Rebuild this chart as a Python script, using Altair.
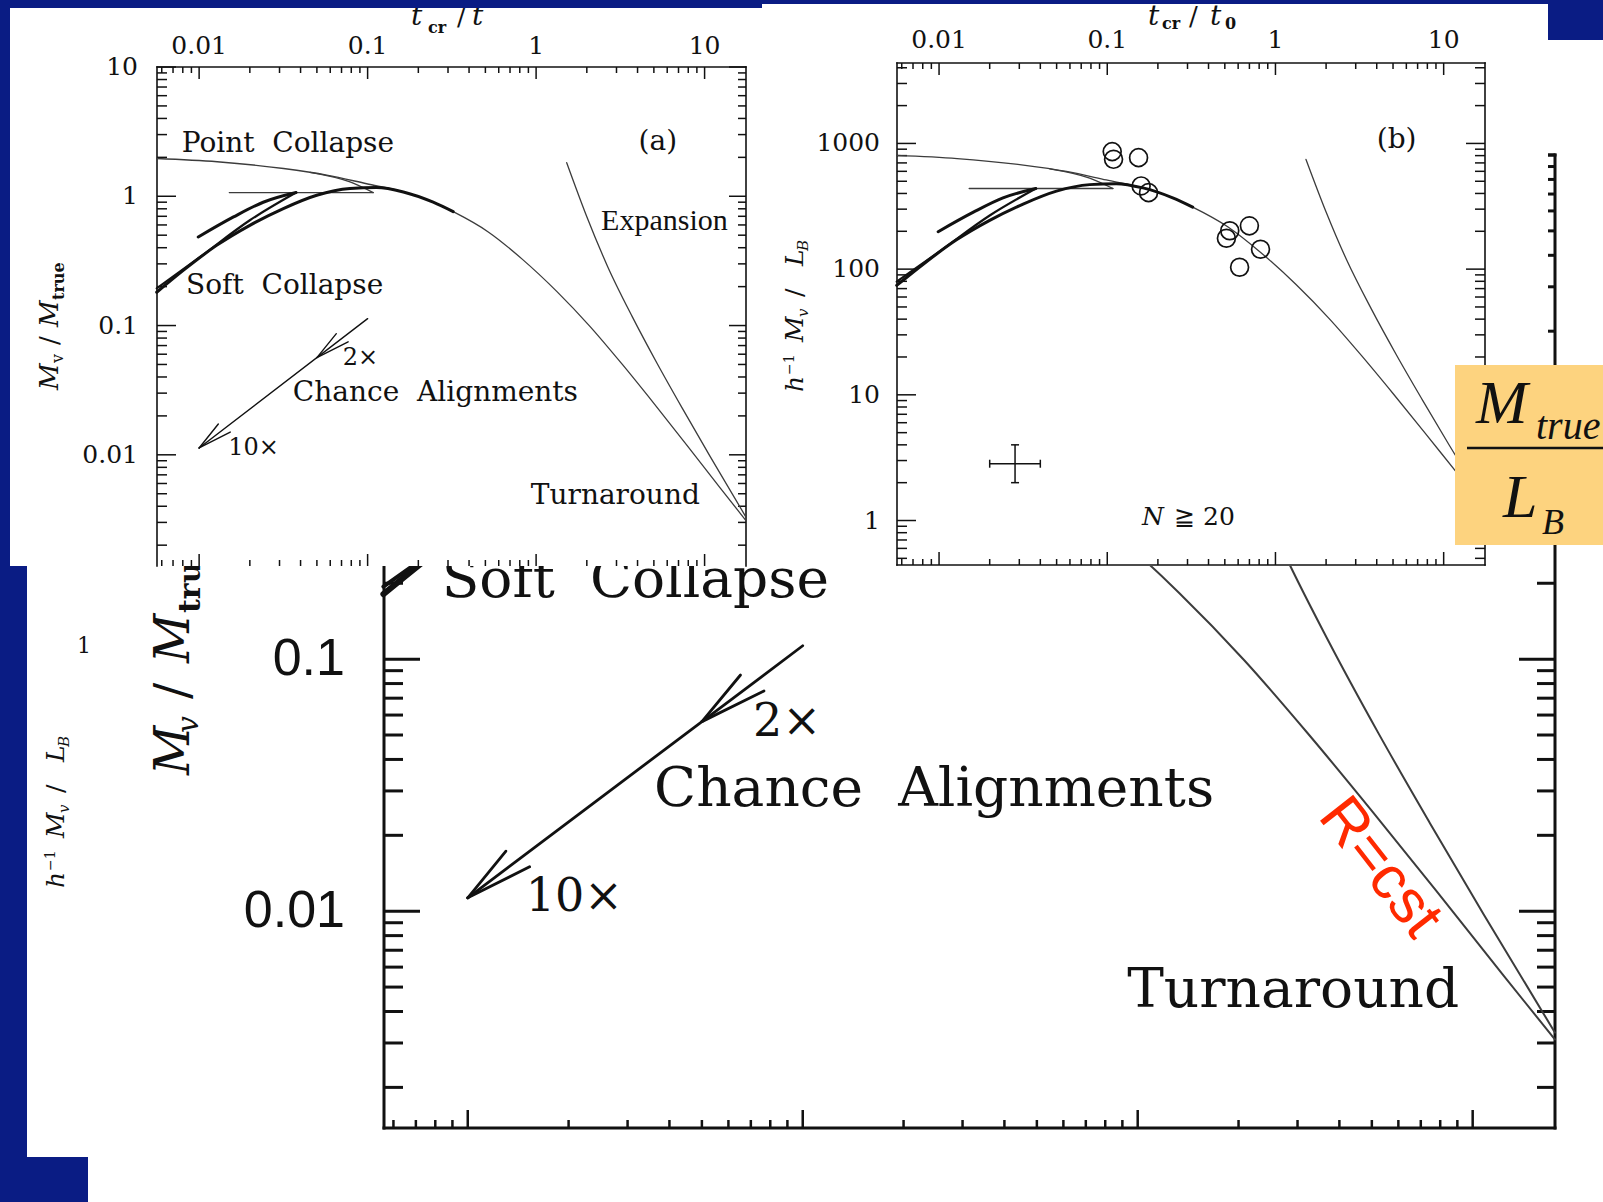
import altair as alt
import pandas as pd

# ---------------- canvas & palette ----------------
W, H = 1603, 1202
NAVY = "#0a1c84"
YELLOW = "#FDD37F"
RED = "#FF2A00"
INK = "#111111"
THIN = "#3c3c3c"
SERIF = "DejaVu Serif"
TIMES = "Liberation Serif"
SANS = "Liberation Sans"

# ---------------- axis extents & ticks ----------------
X_DOM = [0.005623, 17.61]          # t_cr / t
A_Y_DOM = [0.00138, 10.0]          # M_V / M_true
B_Y_DOM = [0.4426, 4365.0]         # h^-1 M_V / L_B

X_MAJOR = [0.01, 0.1, 1, 10]
X_MINOR = [0.006, 0.007, 0.008, 0.009, 0.02, 0.03, 0.04, 0.05, 0.06, 0.07, 0.08, 0.09,
           0.2, 0.3, 0.4, 0.5, 0.6, 0.7, 0.8, 0.9, 2, 3, 4, 5, 6, 7, 8, 9]
X_LABELS = ["0.01", "0.1", "1", "10"]

A_Y_MAJOR = [0.01, 0.1, 1, 10]
A_Y_MINOR = [0.002, 0.003, 0.004, 0.005, 0.006, 0.007, 0.008, 0.009,
             0.02, 0.03, 0.04, 0.05, 0.06, 0.07, 0.08, 0.09,
             0.2, 0.3, 0.4, 0.5, 0.6, 0.7, 0.8, 0.9, 2, 3, 4, 5, 6, 7, 8, 9]
A_Y_LABELS = ["0.01", "0.1", "1", "10"]
ZOOM_Y_SHOWN = [0.01, 0.1]
ZOOM_Y_LABELS = ["0.01", "0.1"]

B_Y_MAJOR = [1, 10, 100, 1000]
B_Y_MINOR = [0.5, 0.6, 0.7, 0.8, 0.9, 2, 3, 4, 5, 6, 7, 8, 9,
             20, 30, 40, 50, 60, 70, 80, 90, 200, 300, 400, 500, 600, 700, 800, 900,
             2000, 3000, 4000]
B_Y_LABELS = ["1", "10", "100", "1000"]

# ---------------- model tracks (M_V / M_true versus t_cr / t) ----------------
PC_X = [0.0056, 0.0128, 0.0317, 0.0572, 0.0987, 0.163, 0.245, 0.322, 0.52, 0.83,
        1.33, 2.08, 3.25, 5.0, 7.8, 12.3, 17.6]
PC_Y = [1.96, 1.85, 1.64, 1.46, 1.25, 1.08, 0.90, 0.76, 0.53, 0.325,
        0.183, 0.099, 0.050, 0.025, 0.0120, 0.0056, 0.0031]

EX_X = [1.519, 2.0, 2.66, 3.72, 5.22, 7.47, 10.8, 17.6]
EX_Y = [1.82, 0.695, 0.2855, 0.1172, 0.0511, 0.02225, 0.00968, 0.0033]

SC_X = [0.0056, 0.00805, 0.0127, 0.020, 0.0316, 0.0499, 0.0786, 0.113, 0.163, 0.245, 0.322]
SC_Y = [0.181, 0.267, 0.417, 0.596, 0.803, 1.018, 1.147, 1.168, 1.08, 0.90, 0.76]

LOOP_UP_X = [0.0056, 0.0101, 0.020, 0.0376]
LOOP_UP_Y = [0.194, 0.338, 0.652, 1.068]
LOOP_BACK_X = [0.00988, 0.0160, 0.0240, 0.0376]
LOOP_BACK_Y = [0.484, 0.692, 0.899, 1.068]
PLATEAU_X = [0.0151, 0.108]
PLATEAU_Y = [1.068, 1.068]
BRANCH_X = [0.0455, 0.0786, 0.108]
BRANCH_Y = [1.53, 1.29, 1.068]

# chance-alignment vector and its two arrowheads (2x and 10x)
ARROW_X = [0.01, 0.1]
ARROW_Y = [0.0113, 0.113]
HEAD_SEGS = [((0.01, 0.0113), (0.0130, 0.0173)), ((0.01, 0.0113), (0.0153, 0.0150)),
             ((0.05, 0.0565), (0.0652, 0.0865)), ((0.05, 0.0565), (0.0766, 0.0748))]

# true mass-to-light ratio converting panel (a) tracks into panel (b) units
ML_TRUE = 410

# compact groups with N >= 20
GRP_X = [0.107, 0.109, 0.1535, 0.159, 0.176, 0.535, 0.511, 0.70, 0.815, 0.612]
GRP_Y = [861, 748, 771, 459, 406, 202, 176, 221, 144, 103.5]
ERR_X = [0.02, 0.0283, 0.04]
ERR_Y = [2.0, 2.83, 4.0]

# annotations (data coordinates, left edge / baseline)
WORDS = ["Point\u00a0\u00a0Collapse", "Soft\u00a0\u00a0Collapse", "Chance\u00a0\u00a0Alignments", "Turnaround"]
WORDS_X = [0.00788, 0.00836, 0.036, 0.93]
WORDS_Y = [2.2, 0.176, 0.0262, 0.00415]
MULTS = ["2\u00d7", "10\u00d7"]
MULTS_X = [0.0711, 0.0149]
MULTS_Y = [0.0497, 0.0100]

# ---------------- layout of the three plots ----------------
PANEL_A = {"xr": [157, 746], "yr": [566, 67], "ydom": A_Y_DOM}
PANEL_B = {"xr": [897, 1485], "yr": [565, 63], "ydom": B_Y_DOM}
ZOOM = {"xr": [384, 1555], "yr": [1128, 155], "ydom": A_Y_DOM}

ONE = pd.DataFrame({"k": [0]})


def sx(p):
    return alt.Scale(type="log", domain=X_DOM, range=p["xr"], nice=False)


def sy(p):
    return alt.Scale(type="log", domain=p["ydom"], range=p["yr"], nice=False)


def xy(p, xf="x", yf="y"):
    return dict(x=alt.X(f"{xf}:Q", scale=sx(p), axis=None),
                y=alt.Y(f"{yf}:Q", scale=sy(p), axis=None))


def box(x0, x1, y0, y1, color):
    return alt.Chart(ONE).mark_rect(color=color, strokeWidth=0).encode(
        x=alt.value(x0), x2=alt.value(x1), y=alt.value(y0), y2=alt.value(y1))


def curve(xs, ys, p, width, color=INK, k=1.0):
    df = pd.DataFrame({"x": xs, "y": [v * k for v in ys], "i": list(range(len(xs)))})
    return alt.Chart(df).mark_line(color=color, strokeWidth=width, interpolate="monotone",
                                   strokeCap="round", strokeJoin="round").encode(order="i:Q", **xy(p))


def segments(segs, p, width, color=INK, cap="round"):
    rows = []
    for s, ((x0, y0), (x1, y1)) in enumerate(segs):
        rows.append({"s": s, "x": x0, "y": y0, "i": 0})
        rows.append({"s": s, "x": x1, "y": y1, "i": 1})
    return alt.Chart(pd.DataFrame(rows)).mark_line(color=color, strokeWidth=width, strokeCap=cap).encode(
        detail="s:N", order="i:Q", **xy(p))


def frame(p, sides, width):
    x0, x1 = X_DOM
    y0, y1 = p["ydom"]
    edges = {"left": ((x0, y0), (x0, y1)), "top": ((x0, y1), (x1, y1)),
             "right": ((x1, y0), (x1, y1)), "bottom": ((x0, y0), (x1, y0))}
    return segments([edges[s] for s in sides], p, width, cap="square")


def ticks(vals, p, side, length, width):
    if side in ("top", "bottom"):
        edge = p["ydom"][1] if side == "top" else p["ydom"][0]
        off = length if side == "top" else -length
        df = pd.DataFrame({"v": vals, "e": [edge] * len(vals)})
        return alt.Chart(df).mark_rule(color=INK, strokeWidth=width, y2Offset=off).encode(
            x=alt.X("v:Q", scale=sx(p), axis=None),
            y=alt.Y("e:Q", scale=sy(p), axis=None), y2="e:Q")
    edge = X_DOM[0] if side == "left" else X_DOM[1]
    off = length if side == "left" else -length
    df = pd.DataFrame({"v": vals, "e": [edge] * len(vals)})
    return alt.Chart(df).mark_rule(color=INK, strokeWidth=width, x2Offset=off).encode(
        x=alt.X("e:Q", scale=sx(p), axis=None), x2="e:Q",
        y=alt.Y("v:Q", scale=sy(p), axis=None))


def top_labels(vals, labels, p, pad, size, font=SERIF):
    df = pd.DataFrame({"v": vals, "e": [p["ydom"][1]] * len(vals), "t": labels})
    return alt.Chart(df).mark_text(font=font, fontSize=size, color=INK, align="center",
                                   baseline="middle", dy=-pad).encode(
        x=alt.X("v:Q", scale=sx(p), axis=None), y=alt.Y("e:Q", scale=sy(p), axis=None), text="t:N")


def left_labels(vals, labels, p, pad, size, font=SERIF):
    df = pd.DataFrame({"v": vals, "e": [X_DOM[0]] * len(vals), "t": labels})
    return alt.Chart(df).mark_text(font=font, fontSize=size, color=INK, align="right",
                                   baseline="middle", dx=-pad).encode(
        x=alt.X("e:Q", scale=sx(p), axis=None), y=alt.Y("v:Q", scale=sy(p), axis=None), text="t:N")


def notes(texts, xs, ys, p, size, font=SERIF, style="normal", align="left", color=INK,
          angle=0, baseline="alphabetic", dx=0):
    df = pd.DataFrame({"x": xs, "y": ys, "t": texts})
    return alt.Chart(df).mark_text(font=font, fontSize=size, fontStyle=style, align=align,
                                   baseline=baseline, color=color, angle=angle, dx=dx).encode(
        text="t:N", **xy(p))


def ptext(text, x, y, size, font=SERIF, style="normal", weight="normal", align="left",
          baseline="alphabetic", angle=0, dx=0, dy=0, color=INK):
    return alt.Chart(ONE).mark_text(text=text, font=font, fontSize=size, fontStyle=style,
                                    fontWeight=weight, align=align, baseline=baseline,
                                    angle=angle, dx=dx, dy=dy, color=color).encode(
        x=alt.value(x), y=alt.value(y))


def rotated_title(pieces, x, y):
    # pieces: (text, offset along the title, shift across it, size, style, weight)
    return [ptext(t, x, y, s, style=st, weight=wt, angle=270, dx=d, dy=q)
            for t, d, q, s, st, wt in pieces]


def tracks(p, k, thin_w, thick_w, mid_w):
    return [
        curve(PC_X, PC_Y, p, thin_w, THIN, k),
        curve(EX_X, EX_Y, p, thin_w, THIN, k),
        curve(PLATEAU_X, PLATEAU_Y, p, thin_w, THIN, k),
        curve(BRANCH_X, BRANCH_Y, p, thin_w, THIN, k),
        curve(LOOP_UP_X, LOOP_UP_Y, p, mid_w, INK, k),
        curve(LOOP_BACK_X, LOOP_BACK_Y, p, thick_w, INK, k),
        curve(SC_X, SC_Y, p, thick_w, INK, k),
    ]


layers = []

# ---------------- enlarged view of panel (a), behind the insets ----------------
layers += [box(27, W, 40, 1157, "white"), box(88, W, 1157, H, "white")]
layers += [
    frame(ZOOM, ["left", "top", "right", "bottom"], 3),
    ticks(A_Y_MAJOR, ZOOM, "left", 36, 3), ticks(A_Y_MINOR, ZOOM, "left", 19, 3),
    ticks(A_Y_MAJOR, ZOOM, "right", 36, 3), ticks(A_Y_MINOR, ZOOM, "right", 18, 3),
    ticks(X_MAJOR, ZOOM, "bottom", 18, 2.5), ticks(X_MINOR, ZOOM, "bottom", 8, 2.5),
    left_labels(ZOOM_Y_SHOWN, ZOOM_Y_LABELS, ZOOM, 39, 52, SANS),
]
layers += tracks(ZOOM, 1.0, 2.0, 6.0, 4.0)
layers += [
    curve(ARROW_X, ARROW_Y, ZOOM, 2.8),
    segments(HEAD_SEGS, ZOOM, 2.8),
    notes(WORDS[1:], WORDS_X[1:], WORDS_Y[1:], ZOOM, 55),
    notes(MULTS, MULTS_X, MULTS_Y, ZOOM, 46),
    notes(["R=cst"], [5.28], [0.01486], ZOOM, 61, font=SANS, align="center", color=RED,
          angle=52, baseline="middle"),
]
layers += rotated_title([("M", 0, 0, 48, "italic", "normal"), ("v", 42, 9, 30, "italic", "normal"),
                         ("/", 76, 0, 48, "normal", "normal"), ("M", 112, 0, 48, "italic", "normal"),
                         ("true", 162, 11, 30, "normal", "bold")], 189, 775)

# stray axis text of an underlying copy of panel (b)
layers.append(ptext("1", 84, 646, 22, align="center", baseline="middle"))
HB_TITLE = [("h", 0, 0, 25, "italic", "normal"), ("\u22121", 17, -9, 14, "normal", "normal"),
            ("M", 50, 0, 25, "italic", "normal"), ("v", 75, 5, 15, "italic", "normal"),
            ("/", 95, 0, 25, "normal", "normal"), ("L", 126, 0, 25, "italic", "normal"),
            ("B", 141, 5, 15, "italic", "normal")]
layers += rotated_title(HB_TITLE, 64, 888)

# ---------------- panel (a) ----------------
layers += [
    box(10, 762, 8, 566, "white"),
    frame(PANEL_A, ["left", "top", "right"], 1.6),
    ticks(X_MAJOR, PANEL_A, "top", 12, 1.5), ticks(X_MINOR, PANEL_A, "top", 6, 1.5),
    ticks(X_MAJOR, PANEL_A, "bottom", 12, 1.5), ticks(X_MINOR, PANEL_A, "bottom", 6, 1.5),
    ticks(A_Y_MAJOR, PANEL_A, "left", 19, 1.5), ticks(A_Y_MINOR, PANEL_A, "left", 10, 1.5),
    ticks(A_Y_MAJOR, PANEL_A, "right", 17, 1.5), ticks(A_Y_MINOR, PANEL_A, "right", 8, 1.5),
    top_labels(X_MAJOR, X_LABELS, PANEL_A, 21, 25),
    left_labels(A_Y_MAJOR, A_Y_LABELS, PANEL_A, 19, 25),
]
layers += tracks(PANEL_A, 1.0, 1.3, 3.0, 2.2)
layers += [
    curve(ARROW_X, ARROW_Y, PANEL_A, 1.4),
    segments(HEAD_SEGS, PANEL_A, 1.4),
    notes(WORDS, WORDS_X, WORDS_Y, PANEL_A, 28),
    notes(MULTS, MULTS_X, MULTS_Y, PANEL_A, 24),
    notes(["Expansion"], [2.43], [0.545], PANEL_A, 30, font=TIMES),
    notes(["(a)"], [5.28], [2.27], PANEL_A, 28, align="center"),
    ptext("t", 411, 25, 28, style="italic"), ptext("cr", 428, 33, 16, weight="bold"),
    ptext("/", 457, 25, 26), ptext("t", 472, 25, 28, style="italic"),
]
layers += rotated_title([("M", 0, 0, 26, "italic", "normal"), ("v", 27, 5, 16, "normal", "normal"),
                         ("/", 45, 0, 26, "normal", "normal"), ("M", 63, 0, 26, "italic", "normal"),
                         ("true", 90, 6, 16, "normal", "bold")], 58, 390)

# ---------------- panel (b) ----------------
grp = pd.DataFrame({"x": GRP_X, "y": GRP_Y})
err_h = pd.DataFrame({"x": [ERR_X[0]], "x2": [ERR_X[2]], "y": [ERR_Y[1]]})
err_v = pd.DataFrame({"x": [ERR_X[1]], "y": [ERR_Y[0]], "y2": [ERR_Y[2]]})
err_hc = pd.DataFrame({"x": [ERR_X[0], ERR_X[2]], "y": [ERR_Y[1], ERR_Y[1]]})
err_vc = pd.DataFrame({"x": [ERR_X[1], ERR_X[1]], "y": [ERR_Y[0], ERR_Y[2]]})
layers += [
    box(762, 1548, 4, 566, "white"),
    frame(PANEL_B, ["left", "top", "right", "bottom"], 1.6),
    ticks(X_MAJOR, PANEL_B, "top", 12, 1.5), ticks(X_MINOR, PANEL_B, "top", 6, 1.5),
    ticks(X_MAJOR, PANEL_B, "bottom", 13, 1.5), ticks(X_MINOR, PANEL_B, "bottom", 6, 1.5),
    ticks(B_Y_MAJOR, PANEL_B, "left", 19, 1.5), ticks(B_Y_MINOR, PANEL_B, "left", 10, 1.5),
    ticks(B_Y_MAJOR, PANEL_B, "right", 19, 1.5), ticks(B_Y_MINOR, PANEL_B, "right", 10, 1.5),
    top_labels(X_MAJOR, X_LABELS, PANEL_B, 23, 25),
    left_labels(B_Y_MAJOR, B_Y_LABELS, PANEL_B, 17, 25),
]
layers += tracks(PANEL_B, ML_TRUE, 1.3, 3.0, 2.2)
layers += [
    alt.Chart(grp).mark_point(shape="circle", filled=False, size=320, strokeWidth=1.7,
                              color=INK, opacity=1).encode(**xy(PANEL_B)),
    alt.Chart(err_h).mark_rule(color=INK, strokeWidth=1.5).encode(
        x2="x2:Q", **xy(PANEL_B)),
    alt.Chart(err_v).mark_rule(color=INK, strokeWidth=1.5).encode(
        y2="y2:Q", **xy(PANEL_B)),
    alt.Chart(err_hc).mark_tick(orient="vertical", size=8, thickness=1.5, color=INK,
                                opacity=1).encode(**xy(PANEL_B)),
    alt.Chart(err_vc).mark_tick(orient="horizontal", size=8, thickness=1.5, color=INK,
                                opacity=1).encode(**xy(PANEL_B)),
    notes(["N"], [0.161], [0.923], PANEL_B, 25, style="italic"),
    notes(["\u2267 20"], [0.161], [0.923], PANEL_B, 25, dx=32),
    notes(["(b)"], [5.25], [921], PANEL_B, 28, align="center"),
    ptext("t", 1148, 25, 28, style="italic"), ptext("cr", 1162, 29, 16, weight="bold"),
    ptext("/", 1189, 25, 26), ptext("t", 1210, 25, 28, style="italic"),
    ptext("0", 1225, 29, 16, weight="bold"),
]
layers += rotated_title(HB_TITLE, 803, 392)

# ---------------- highlighted ratio M_true / L_B ----------------
layers += [
    box(1455, W, 365, 545, YELLOW),
    alt.Chart(ONE).mark_rule(color=INK, strokeWidth=2.5).encode(
        x=alt.value(1467), x2=alt.value(W), y=alt.value(448)),
    ptext("M", 1476, 423, 62, font=TIMES, style="italic"),
    ptext("true", 1536, 439, 40, font=TIMES, style="italic"),
    ptext("L", 1503, 517, 62, font=TIMES, style="italic"),
    ptext("B", 1542, 534, 36, font=TIMES, style="italic"),
]

# ---------------- slide frame ----------------
layers += [box(0, 762, 0, 8, NAVY), box(762, 1548, 0, 4, NAVY), box(1548, W, 0, 40, NAVY)]

chart = alt.layer(*layers).resolve_scale(x="independent", y="independent").properties(
    width=W, height=H, padding=0, autosize=alt.AutoSizeParams(type="none"), background=NAVY
).configure_view(strokeWidth=0)

chart.save("out.html", embed_options={"renderer": "svg", "actions": False})
